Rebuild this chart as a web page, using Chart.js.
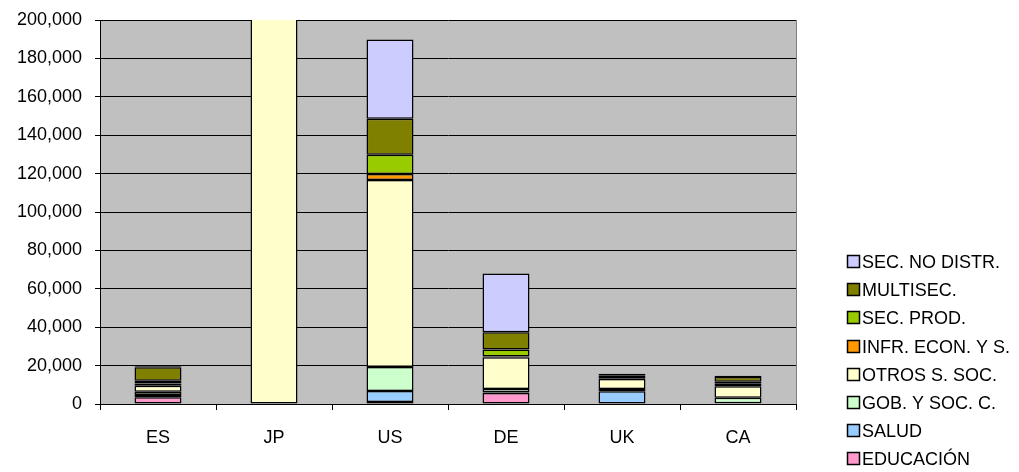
<!DOCTYPE html>
<html><head><meta charset="utf-8">
<script src="https://cdn.jsdelivr.net/npm/chart.js@4.4.1/dist/chart.umd.min.js"></script>
<style>html,body{margin:0;padding:0;background:#fff}</style>
</head><body>
<canvas id="c" width="1019" height="472" style="display:block;width:1019px;height:472px"></canvas>
<script>
const categories = ['ES', 'JP', 'US', 'DE', 'UK', 'CA'];
const seriesNames = ['EDUCACIÓN', 'SALUD', 'GOB. Y SOC. C.', 'OTROS S. SOC.', 'INFR. ECON. Y S.', 'SEC. PROD.', 'MULTISEC.', 'SEC. NO DISTR.'];
const educacion   = [3500, 0, 1000, 5700, 200, 200];
const salud       = [1200, 0, 5800, 300, 6400, 200];
const gobSoc      = [1700, 0, 12500, 1800, 1200, 2900];
const otrosSoc    = [3100, 230000, 97400, 16600, 5200, 5900];
const infrEcon    = [1200, 0, 3100, 300, 400, 1300];
const secProd     = [1400, 0, 10000, 3700, 600, 1100];
const multisec    = [7000, 0, 18800, 9000, 1000, 2400];
const secNoDistr  = [500, 0, 41200, 30600, 800, 700];
const yTicksMax = 200000;
const yTicksStep = 20000;

const seriesValues = [educacion, salud, gobSoc, otrosSoc, infrEcon, secProd, multisec, secNoDistr];
const seriesColors = ['#FF99CC', '#99CCFF', '#CCFFCC', '#FFFFCC', '#FF9900', '#99CC00', '#808000', '#CCCCFF'];

Chart.defaults.font.family = '"Liberation Sans", Arial, sans-serif';
Chart.defaults.font.size = 18;
Chart.defaults.color = '#000';

const plotBg = {
  id: 'plotBg',
  beforeDraw(chart) {
    const {ctx, chartArea: a} = chart;
    ctx.save();
    ctx.fillStyle = '#C0C0C0';
    ctx.fillRect(a.left, a.top, a.right - a.left, a.bottom - a.top);
    ctx.restore();
  },
  afterDatasetsDraw(chart) {
    const {ctx, chartArea: a} = chart;
    ctx.save();
    ctx.strokeStyle = '#808080';
    ctx.lineWidth = 1;
    ctx.beginPath();
    ctx.moveTo(a.right + 0.5, a.top);
    ctx.lineTo(a.right + 0.5, a.bottom);
    ctx.stroke();
    ctx.restore();
  }
};

const sideLegend = {
  id: 'sideLegend',
  afterDraw(chart) {
    const {ctx} = chart;
    const ds = chart.data.datasets;
    ctx.save();
    ctx.font = '18px "Liberation Sans", Arial, sans-serif';
    ctx.textBaseline = 'middle';
    ctx.textAlign = 'left';
    for (let i = ds.length - 1, row = 0; i >= 0; i--, row++) {
      const y = Math.round(262 + row * 28.2);
      ctx.fillStyle = ds[i].backgroundColor;
      ctx.fillRect(847, y - 7, 13, 13);
      ctx.strokeStyle = '#000';
      ctx.lineWidth = 1.5;
      ctx.strokeRect(847.5, y - 6.5, 12, 12);
      ctx.fillStyle = '#000';
      ctx.fillText(ds[i].label, 862, y + 1);
    }
    ctx.restore();
  }
};

new Chart(document.getElementById('c'), {
  type: 'bar',
  data: {
    labels: categories,
    datasets: seriesNames.map((name, i) => ({
      label: name,
      data: seriesValues[i],
      backgroundColor: seriesColors[i],
      borderColor: '#000',
      borderWidth: 1.5,
      borderSkipped: false,
      barPercentage: 0.405,
      categoryPercentage: 1.0
    }))
  },
  options: {
    responsive: false,
    devicePixelRatio: 1,
    animation: false,
    layout: {padding: {top: 20, right: 223, left: 0, bottom: 0}},
    plugins: {legend: {display: false}, tooltip: {enabled: false}},
    scales: {
      x: {
        stacked: true,
        grid: {display: true, offset: true, drawOnChartArea: false, drawTicks: true, tickLength: 6, color: '#000'},
        border: {display: true, color: '#000', width: 1},
        ticks: {padding: 17, font: {size: 18}, color: '#000'},
        afterFit(scale) { scale.height = 68; }
      },
      y: {
        stacked: true,
        min: 0,
        max: yTicksMax,
        grid: {color: '#000', lineWidth: 1, tickLength: 5, drawTicks: true},
        border: {display: true, color: '#000', width: 1},
        ticks: {
          stepSize: yTicksStep,
          padding: 13,
          font: {size: 18},
          color: '#000',
          callback: v => v.toLocaleString('en-US')
        },
        afterFit(scale) { scale.width = 100; scale.paddingTop = 0; scale.paddingBottom = 0; }
      }
    }
  },
  plugins: [plotBg, sideLegend]
});
</script>
</body></html>
